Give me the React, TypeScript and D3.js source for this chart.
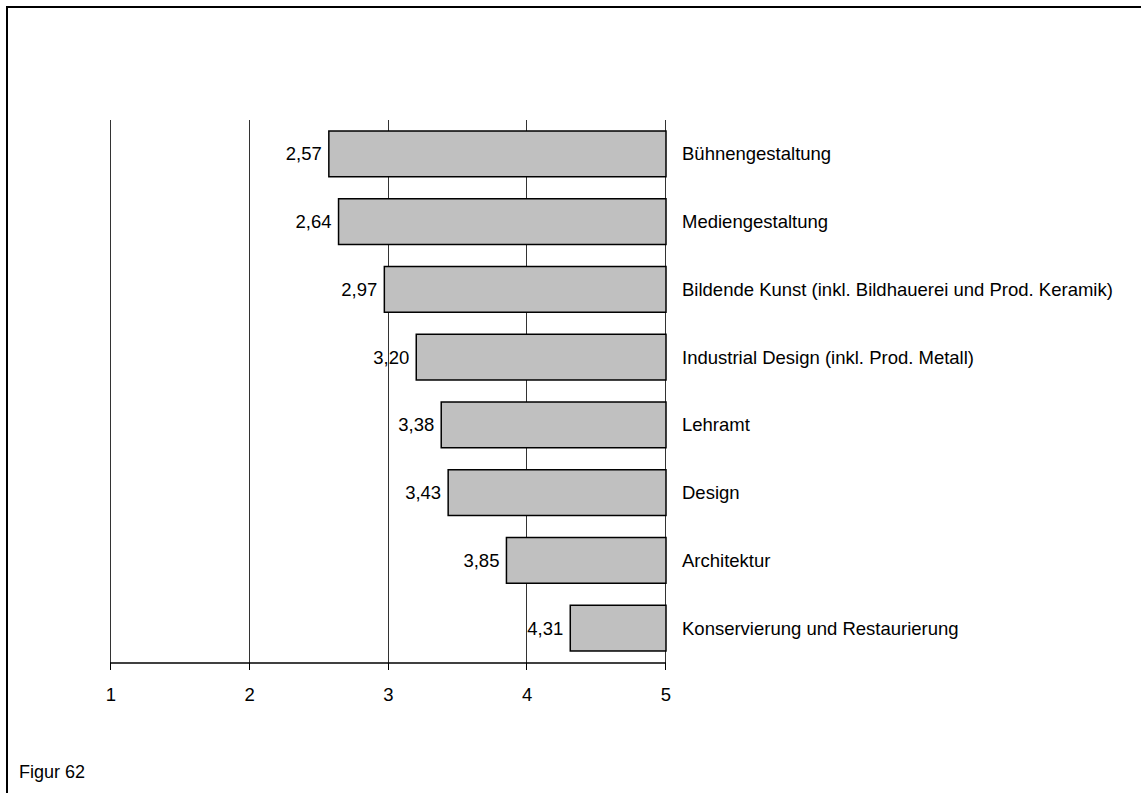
import React from "react";
import * as d3 from "d3";

const categories = [
  "Bühnengestaltung",
  "Mediengestaltung",
  "Bildende Kunst (inkl. Bildhauerei und Prod. Keramik)",
  "Industrial Design (inkl. Prod. Metall)",
  "Lehramt",
  "Design",
  "Architektur",
  "Konservierung und Restaurierung",
];
const values = [2.57, 2.64, 2.97, 3.2, 3.38, 3.43, 3.85, 4.31];
const tickValues = [1, 2, 3, 4, 5];
const footnote = "Figur 62";

const W = 1141;
const H = 793;
const FONT = "'Liberation Sans', Arial, sans-serif";

export default function App() {
  const x = d3.scaleLinear().domain([1, 5]).range([111, 666]);
  const y = d3.scaleBand<string>().domain(categories).range([120, 662]).paddingInner(0.325).paddingOuter(0.1625);
  const fmt = (v: number) => v.toFixed(2).replace(".", ",");
  const axisY = 663;
  return (
    <svg width={W} height={H} style={{ position: "absolute", left: 0, top: 0, background: "#fff" }}>
      <rect x={0} y={0} width={W} height={H} fill="#fff" />
      {/* frame */}
      <line x1={6} x2={W} y1={7} y2={7} stroke="#000" strokeWidth={2} />
      <line x1={7} x2={7} y1={6} y2={H} stroke="#000" strokeWidth={2} />
      {/* gridlines */}
      {tickValues.map((t) => (
        <line key={"g" + t} x1={Math.round(x(t)) - 0.5} x2={Math.round(x(t)) - 0.5} y1={120} y2={axisY} stroke="#333" strokeWidth={1} />
      ))}
      {/* bars */}
      {categories.map((c, i) => (
        <rect
          key={c}
          x={x(values[i])}
          y={y(c)!}
          width={x(5) - x(values[i])}
          height={y.bandwidth()}
          fill="#c0c0c0"
          stroke="#000"
          strokeWidth={1.5}
        />
      ))}
      {/* value labels */}
      {categories.map((c, i) => (
        <text
          key={"v" + c}
          x={x(values[i]) - 7}
          y={y(c)! + y.bandwidth() / 2 + 6.5}
          textAnchor="end"
          fontFamily={FONT}
          fontSize={18.5}
          fill="#000"
        >
          {fmt(values[i])}
        </text>
      ))}
      {/* category labels */}
      {categories.map((c) => (
        <text
          key={"c" + c}
          x={x(5) + 16}
          y={y(c)! + y.bandwidth() / 2 + 6.5}
          fontFamily={FONT}
          fontSize={18.5}
          fill="#000"
        >
          {c}
        </text>
      ))}
      {/* axis */}
      <line x1={x(1) - 1} x2={x(5)} y1={axisY} y2={axisY} stroke="#000" strokeWidth={1.5} />
      {tickValues.map((t) => (
        <g key={"t" + t}>
          <line x1={Math.round(x(t)) - 0.5} x2={Math.round(x(t)) - 0.5} y1={axisY} y2={axisY + 7} stroke="#000" strokeWidth={1} />
          <text x={x(t)} y={701} textAnchor="middle" fontFamily={FONT} fontSize={18.5} fill="#000">
            {t}
          </text>
        </g>
      ))}
      <text x={19} y={778} fontFamily={FONT} fontSize={18} fill="#000">
        {footnote}
      </text>
    </svg>
  );
}
